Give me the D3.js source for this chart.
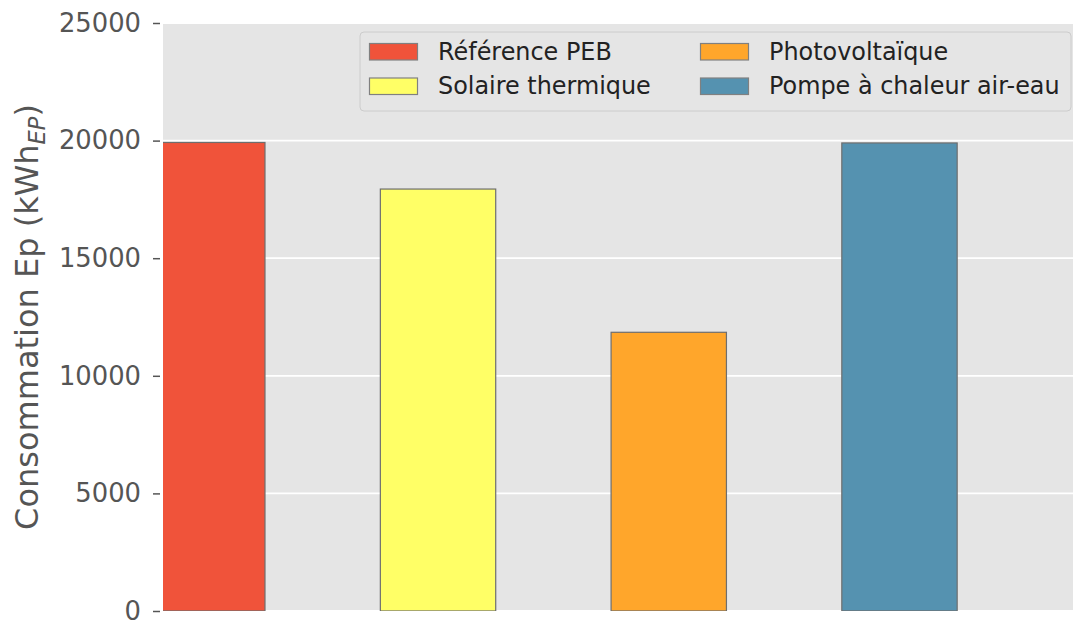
<!DOCTYPE html>
<html>
<head>
<meta charset="utf-8">
<script src="https://cdn.jsdelivr.net/npm/d3@7"></script>
<style>
  body { margin: 0; background: #fff; }
  text { font-family: "DejaVu Sans", sans-serif; }
</style>
</head>
<body>
<div id="chart"></div>
<script>
// données
const categories = ["Référence PEB", "Solaire thermique", "Photovoltaïque", "Pompe à chaleur air-eau"]
const values = [19920, 17940, 11850, 19900]
const colors = ["#F0533A", "#FFFF66", "#FFA62B", "#5592B0"]
const yTicks = [0, 5000, 10000, 15000, 20000, 25000]

const W = 1073, H = 623
const margin = { top: 23, right: 0, bottom: 12, left: 163 }
const innerW = W - margin.left - margin.right
const innerH = H - margin.top - margin.bottom

const svg = d3.select("#chart").append("svg")
  .attr("width", W)
  .attr("height", H)

const rootG = svg.append("g")
  .attr("transform", "translate(" + margin.left + "," + margin.top + ")")

// échelles (x en indices de barres, comme matplotlib)
const xScale = d3.scaleLinear().domain([-0.192, 3.752]).range([0, innerW])
const yScale = d3.scaleLinear().domain([0, 25000]).range([innerH, 0])
const barW = 0.5

svg.append("defs").append("clipPath").attr("id", "clip")
  .append("rect").attr("width", innerW).attr("height", innerH)

// fond
rootG.append("rect")
  .attr("width", innerW)
  .attr("height", innerH)
  .attr("fill", "#E5E5E5")

// grille
rootG.append("g").selectAll("line")
  .data(yTicks)
  .join("line")
  .attr("x1", 0).attr("x2", innerW)
  .attr("y1", d => yScale(d)).attr("y2", d => yScale(d))
  .attr("stroke", "#fff")
  .attr("stroke-width", 1.8)

// barres
rootG.append("g").attr("clip-path", "url(#clip)")
  .selectAll("rect")
  .data(values)
  .join("rect")
  .attr("x", (d, i) => xScale(i - barW / 2))
  .attr("width", xScale(barW) - xScale(0))
  .attr("y", d => yScale(d))
  .attr("height", d => yScale(0) - yScale(d))
  .attr("fill", (d, i) => colors[i])
  .attr("stroke", "#6e6e6e")
  .attr("stroke-width", 1.2)

// axe Y
const yAxis = d3.axisLeft(yScale).tickValues(yTicks).tickFormat(d3.format("d")).tickSize(7).tickPadding(12)
const yG = rootG.append("g").attr("transform", "translate(-3,0)").call(yAxis)
yG.select(".domain").remove()
yG.selectAll(".tick line").attr("stroke", "#555").attr("stroke-width", 1.5)
yG.selectAll(".tick text")
  .attr("fill", "#555")
  .attr("font-size", 25.8)

// titre axe Y
const yLabel = svg.append("text")
  .attr("transform", "translate(38," + (margin.top + innerH / 2) + ") rotate(-90)")
  .attr("text-anchor", "middle")
  .attr("fill", "#555")
  .attr("font-size", 32)
yLabel.append("tspan").text("Consommation Ep (kWh")
yLabel.append("tspan").attr("font-size", 22.5).attr("font-style", "italic").attr("dy", 7).text("EP")
yLabel.append("tspan").attr("dy", -7).text(")")

// légende
const legG = svg.append("g").attr("transform", "translate(360,32)")
legG.append("rect")
  .attr("width", 711)
  .attr("height", 79)
  .attr("rx", 4)
  .attr("fill", "#E5E5E5")
  .attr("stroke", "#cccccc")
  .attr("stroke-width", 1)

const legItems = legG.selectAll("g.item")
  .data(categories)
  .join("g")
  .attr("class", "item")
  .attr("transform", (d, i) => "translate(" + (i < 2 ? 9.5 : 340.5) + "," + (i % 2 === 0 ? 11.5 : 46) + ")")

legItems.append("rect")
  .attr("width", 48)
  .attr("height", 16.5)
  .attr("fill", (d, i) => colors[i])
  .attr("stroke", "#808080")
  .attr("stroke-width", 1.2)

legItems.append("text")
  .attr("x", 68.5)
  .attr("y", 16)
  .attr("fill", "#222")
  .attr("font-size", 23.9)
  .text(d => d)
</script>
</body>
</html>
